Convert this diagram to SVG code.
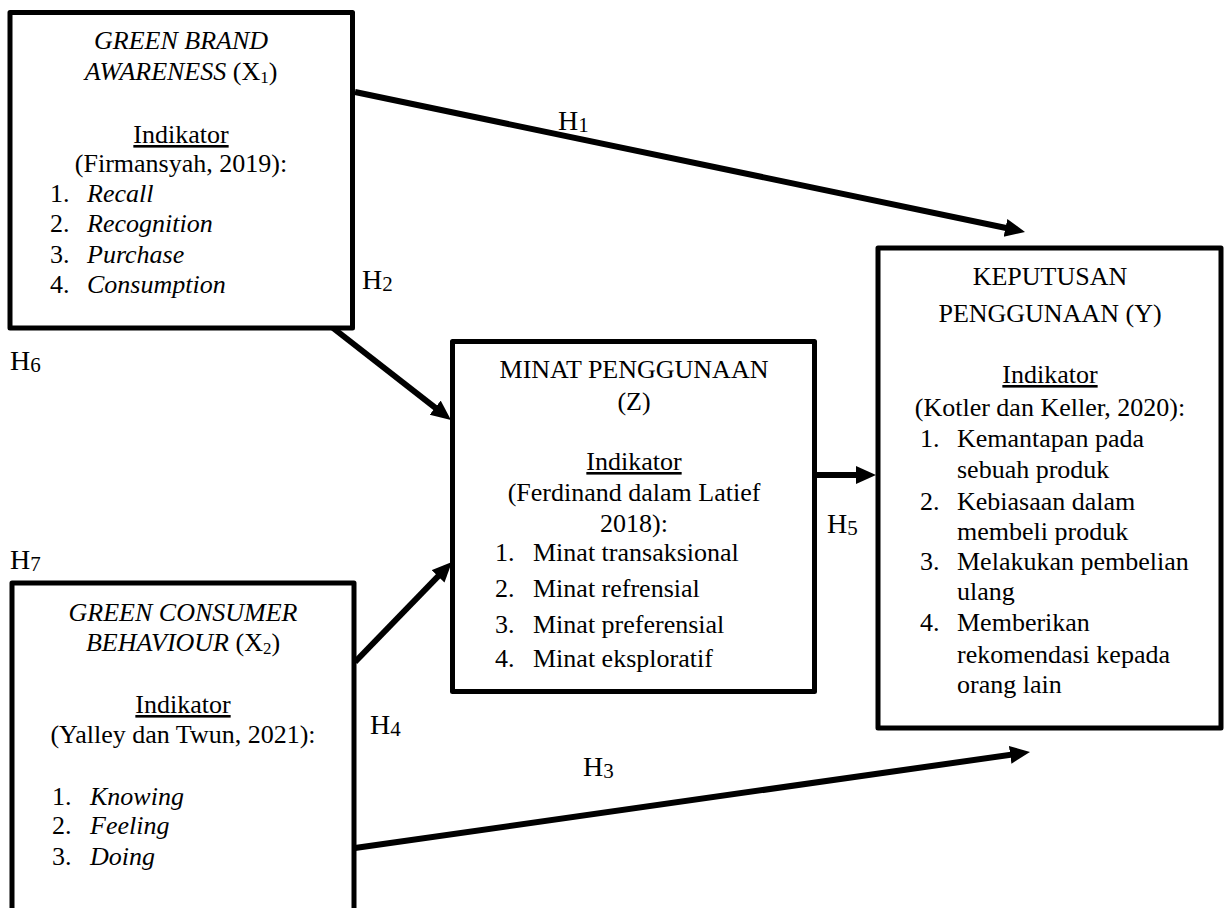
<svg xmlns="http://www.w3.org/2000/svg" width="1230" height="908" viewBox="0 0 1230 908">
<style>
text{font-family:"Liberation Serif","Times New Roman",serif;font-size:26px;fill:#000}
.c{text-anchor:middle}
.i{font-style:italic}
.u{text-decoration:underline}
.sub{font-size:17px}
.h{font-size:28px}
.hs{font-size:21px}
.box{fill:#fff;stroke:#000;stroke-width:5;stroke-linejoin:round}
.ln{fill:none;stroke:#000;stroke-width:6}
</style>
<defs>
<marker id="ah" markerUnits="userSpaceOnUse" markerWidth="22" markerHeight="20" refX="8" refY="9" orient="auto">
<path d="M0,0 L20,9 L0,18 z" fill="#000"/>
</marker>
</defs>
<rect width="1230" height="908" fill="#fff"/>

<g id="connectors">
<line class="ln" x1="355" y1="92" x2="1013.3" y2="229.5" marker-end="url(#ah)"/>
<line class="ln" x1="333" y1="328" x2="441.5" y2="412.6" marker-end="url(#ah)"/>
<line class="ln" x1="355" y1="662" x2="443.6" y2="570.6" marker-end="url(#ah)"/>
<line class="ln" x1="355" y1="848" x2="1018.1" y2="753.7" marker-end="url(#ah)"/>
<line class="ln" x1="815" y1="475" x2="864" y2="475" marker-end="url(#ah)"/>
</g>

<g id="labels">
<text class="h" x="558" y="130">H<tspan class="hs" dy="2">1</tspan></text>
<text class="h" x="362" y="289">H<tspan class="hs" dy="2">2</tspan></text>
<text class="h" x="583" y="776">H<tspan class="hs" dy="2">3</tspan></text>
<text class="h" x="370" y="734">H<tspan class="hs" dy="2">4</tspan></text>
<text class="h" x="827" y="533">H<tspan class="hs" dy="2">5</tspan></text>
<text class="h" x="10" y="370">H<tspan class="hs" dy="2">6</tspan></text>
<text class="h" x="10" y="569">H<tspan class="hs" dy="2">7</tspan></text>
</g>

<g id="node-x1">
<rect class="box" x="10" y="12.5" width="342.5" height="315.5"/>
<text class="c i" x="181" y="49">GREEN BRAND</text>
<text class="c" x="181" y="80"><tspan class="i">AWARENESS</tspan> (X<tspan class="sub" dy="3">1</tspan><tspan dy="-3">)</tspan></text>
<text class="c u" x="181" y="143">Indikator</text>
<text class="c" x="181" y="172">(Firmansyah, 2019):</text>
<text x="50" y="202">1.</text><text class="i" x="87" y="202">Recall</text>
<text x="50" y="232">2.</text><text class="i" x="87" y="232">Recognition</text>
<text x="50" y="263">3.</text><text class="i" x="87" y="263">Purchase</text>
<text x="50" y="293">4.</text><text class="i" x="87" y="293">Consumption</text>
</g>

<g id="node-x2">
<rect class="box" x="12" y="583" width="342" height="340"/>
<text class="c i" x="183" y="621">GREEN CONSUMER</text>
<text class="c" x="183" y="651"><tspan class="i">BEHAVIOUR</tspan> (X<tspan class="sub" dy="3">2</tspan><tspan dy="-3">)</tspan></text>
<text class="c u" x="183" y="713">Indikator</text>
<text class="c" x="183" y="743">(Yalley dan Twun, 2021):</text>
<text x="52" y="805">1.</text><text class="i" x="90" y="805">Knowing</text>
<text x="52" y="834">2.</text><text class="i" x="90" y="834">Feeling</text>
<text x="52" y="865">3.</text><text class="i" x="90" y="865">Doing</text>
</g>

<g id="node-z">
<rect class="box" x="452.5" y="341.5" width="362" height="350"/>
<text class="c" x="634" y="378">MINAT PENGGUNAAN</text>
<text class="c" x="634" y="410">(Z)</text>
<text class="c u" x="634" y="470">Indikator</text>
<text class="c" x="634" y="501">(Ferdinand dalam Latief</text>
<text class="c" x="634" y="532">2018):</text>
<text x="495" y="561">1.</text><text x="533" y="561">Minat transaksional</text>
<text x="495" y="597">2.</text><text x="533" y="597">Minat refrensial</text>
<text x="495" y="633">3.</text><text x="533" y="633">Minat preferensial</text>
<text x="495" y="667">4.</text><text x="533" y="667">Minat eksploratif</text>
</g>

<g id="node-y">
<rect class="box" x="878" y="248" width="343" height="480"/>
<text class="c" x="1050" y="285">KEPUTUSAN</text>
<text class="c" x="1050" y="322">PENGGUNAAN (Y)</text>
<text class="c u" x="1050" y="383">Indikator</text>
<text class="c" x="1050" y="416">(Kotler dan Keller, 2020):</text>
<text x="920" y="447">1.</text><text x="957" y="447">Kemantapan pada</text>
<text x="957" y="478">sebuah produk</text>
<text x="920" y="510">2.</text><text x="957" y="510">Kebiasaan dalam</text>
<text x="957" y="540">membeli produk</text>
<text x="920" y="570">3.</text><text x="957" y="570">Melakukan pembelian</text>
<text x="957" y="600">ulang</text>
<text x="920" y="631">4.</text><text x="957" y="631">Memberikan</text>
<text x="957" y="663">rekomendasi kepada</text>
<text x="957" y="693">orang lain</text>
</g>
</svg>
